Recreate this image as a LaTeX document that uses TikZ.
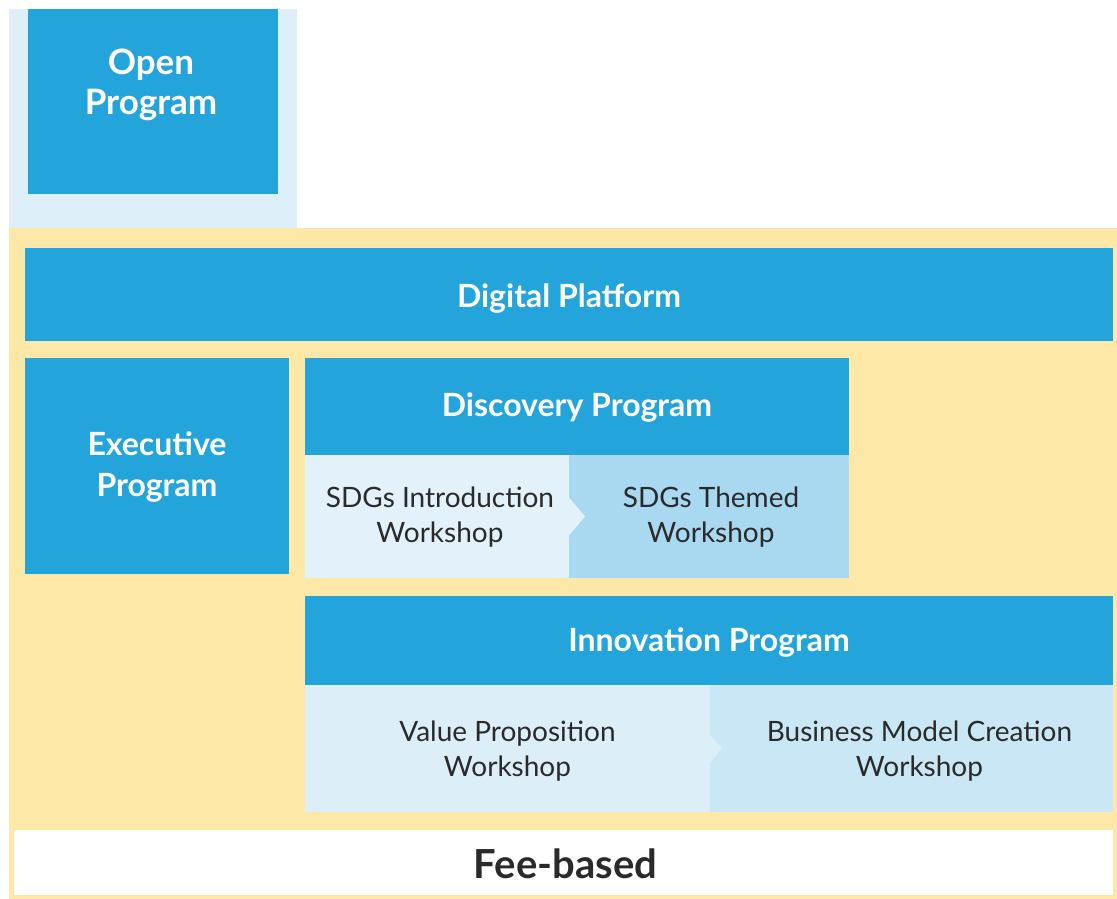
\documentclass[tikz,border=0pt]{standalone}
\usepackage{fontspec}
\setmainfont{Lato}
\definecolor{blu}{HTML}{23A5DC}
\definecolor{lbg}{HTML}{DDF0F9}
\definecolor{ylw}{HTML}{FDE8A8}
\definecolor{sdgL}{HTML}{E2F1FA}
\definecolor{sdgR}{HTML}{A8D9F1}
\definecolor{invL}{HTML}{DCEEF8}
\definecolor{invR}{HTML}{C9E7F4}
\definecolor{dark}{HTML}{2A2A2A}
\tikzset{
  area/.style={inner sep=0pt, outer sep=0pt, anchor=north west, draw=none},
  hdr/.style={text=white, font=\fontsize{32}{41}\selectfont\bfseries, align=center, inner sep=0pt},
  wsh/.style={text=dark, font=\fontsize{28}{35}\selectfont, align=center, inner sep=0pt},
}
\begin{document}
\begin{tikzpicture}[x=1pt,y=-1pt]
\useasboundingbox (0,0) rectangle (1117,899);
\fill[white] (0,0) rectangle (1117,899);
% backgrounds
\node[area, fill=lbg, minimum width=288, minimum height=219] (openbg) at (9,9) {};
\node[area, fill=ylw, minimum width=1108, minimum height=671] (feebg) at (9,228) {};
% open program
\node[area, fill=blu, minimum width=250, minimum height=185] (open) at (28,9) {};
\node[hdr, font=\fontsize{35}{40}\selectfont\bfseries] (openT) at (151,85) {Open\\Program};
% digital platform
\node[area, fill=blu, minimum width=1088, minimum height=93] (dig) at (25,248) {};
\node[hdr] at ([yshift=-4pt]dig.center) {Digital Platform};
% executive
\node[area, fill=blu, minimum width=264, minimum height=216] (exe) at (25,358) {};
\node[hdr] at ([yshift=-1pt]exe.center) {Executive\\Program};
% discovery
\node[area, fill=blu, minimum width=544, minimum height=97] (disc) at (305,358) {};
\node[hdr] at ([yshift=-1pt]disc.center) {Discovery Program};
\node[area, fill=sdgL, minimum width=264, minimum height=123] (sdgi) at (305,455) {};
\node[area, fill=sdgR, minimum width=280, minimum height=123] (sdgt) at (569,455) {};
\fill[sdgL] (sdgi.east) ++(0,-19) -- ++(16,19) -- ++(-16,19) -- cycle;
\node[wsh] at ([xshift=3pt,yshift=-1pt]sdgi.center) {SDGs Introduction\\Workshop};
\node[wsh] at ([xshift=2pt,yshift=-1pt]sdgt.center) {SDGs Themed\\Workshop};
% innovation
\node[area, fill=blu, minimum width=808, minimum height=89] (inno) at (305,596) {};
\node[hdr] at ([yshift=-2pt]inno.center) {Innovation Program};
\node[area, fill=invL, minimum width=405, minimum height=127] (vp) at (305,685) {};
\node[area, fill=invR, minimum width=403, minimum height=127] (bm) at (710,685) {};
\fill[invL] (vp.east) ++(0,-14) -- ++(12,14) -- ++(-12,14) -- cycle;
\node[wsh] at ([yshift=-3pt]vp.center) {Value Proposition\\Workshop};
\node[wsh] at ([xshift=8pt,yshift=-3pt]bm.center) {Business Model Creation\\Workshop};
% fee-based
\node[area, fill=white, minimum width=1099, minimum height=65] (fee) at (14,830) {};
\node[text=dark, font=\fontsize{40}{44}\selectfont\bfseries, inner sep=0pt] at ([xshift=2pt,yshift=-1pt]fee.center) {Fee-based};
\end{tikzpicture}
\end{document}
